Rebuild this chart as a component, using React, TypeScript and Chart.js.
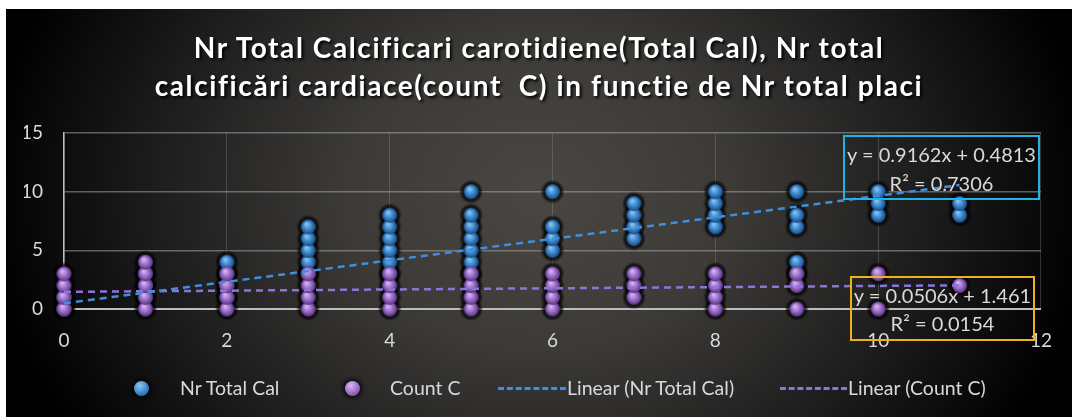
import React, { useEffect, useRef } from "react";
import { Chart, registerables } from "chart.js";

Chart.register(...registerables);

// ---- data ----
const categories = [0, 1, 2, 3, 4, 5, 6, 7, 8, 9, 10, 11];
const totalCalValues: number[][] = [
  [0, 1],
  [1, 2, 3],
  [1, 2, 3, 4],
  [3, 4, 5, 6, 7],
  [3, 4, 5, 6, 7, 8],
  [3, 4, 5, 6, 7, 8, 10],
  [5, 6, 7, 10],
  [6, 7, 8, 9],
  [7, 8, 9, 10],
  [3, 4, 7, 8, 10],
  [8, 9, 10],
  [8, 9],
];
const countCValues: number[][] = [
  [0, 1, 2, 3],
  [0, 1, 2, 3, 4],
  [0, 1, 2, 3],
  [0, 1, 2, 3],
  [0, 1, 2, 3],
  [0, 1, 2, 3],
  [0, 1, 2, 3],
  [1, 2, 3],
  [0, 1, 2, 3],
  [0, 2, 3],
  [0, 3],
  [2],
];
const trendRange = [0, 11];
const totalSlope = 0.9162;
const totalIntercept = 0.4813;
const countSlope = 0.0506;
const countIntercept = 1.461;
const xTicks = [0, 2, 4, 6, 8, 10, 12];
const yTicks = [0, 5, 10, 15];

const titleLines = [
  "Nr Total Calcificari carotidiene(Total Cal), Nr total",
  "calcificări cardiace(count  C) in functie de Nr total placi",
];
const legendLabels = ["Nr Total Cal", "Count C", "Linear (Nr Total Cal)", "Linear (Count C)"];
const totalEq = ["y = 0.9162x + 0.4813", "R² = 0.7306"];
const countEq = ["y = 0.0506x + 1.461", "R² = 0.0154"];

const FONT = "Lato, 'Open Sans', 'DejaVu Sans Condensed', sans-serif";
const BLUE_LINE = "#3d8fe0";
const PURPLE_LINE = "#8d74d8";

function toPoints(values: number[][]) {
  const pts: { x: number; y: number }[] = [];
  categories.forEach((c, i) => values[i].forEach((v) => pts.push({ x: c, y: v })));
  return pts;
}

function makeSphere(r: number, light: string, base: string, dark: string) {
  const size = Math.ceil(r * 2) + 2;
  const cv = document.createElement("canvas");
  cv.width = size;
  cv.height = size;
  const ctx = cv.getContext("2d")!;
  const c = size / 2;
  const g = ctx.createRadialGradient(c - r * 0.25, c - r * 0.4, 0.5, c, c, r);
  g.addColorStop(0, light);
  g.addColorStop(0.55, base);
  g.addColorStop(1, dark);
  ctx.fillStyle = g;
  ctx.beginPath();
  ctx.arc(c, c, r, 0, Math.PI * 2);
  ctx.fill();
  return cv;
}

function makeHalo(r: number) {
  const size = Math.ceil(r * 2);
  const cv = document.createElement("canvas");
  cv.width = size;
  cv.height = size;
  const ctx = cv.getContext("2d")!;
  const c = size / 2;
  const g = ctx.createRadialGradient(c, c, r * 0.5, c, c, r);
  g.addColorStop(0, "rgba(0,0,0,0.9)");
  g.addColorStop(0.6, "rgba(0,0,0,0.6)");
  g.addColorStop(1, "rgba(0,0,0,0)");
  ctx.fillStyle = g;
  ctx.beginPath();
  ctx.arc(c, c, r, 0, Math.PI * 2);
  ctx.fill();
  return cv;
}

const sphereCss = (light: string, base: string, dark: string) =>
  `radial-gradient(circle at 38% 30%, ${light} 0%, ${base} 55%, ${dark} 100%)`;

export default function App() {
  const ref = useRef<HTMLCanvasElement | null>(null);

  useEffect(() => {
    if (!ref.current) return;
    const blueSphere = makeSphere(7.5, "#8cc6f2", "#3a86cc", "#1c4a7e");
    const purpleSphere = makeSphere(7.5, "#d7b9f2", "#9a6cc8", "#56347e");
    const halo = makeHalo(12);
    const totalPts = toPoints(totalCalValues);
    const countPts = toPoints(countCValues);
    const trendTotal = trendRange.map((x) => ({ x, y: totalSlope * x + totalIntercept }));
    const trendCount = trendRange.map((x) => ({ x, y: countSlope * x + countIntercept }));

    const chart = new Chart(ref.current, {
      type: "scatter",
      data: {
        datasets: [
          {
            label: legendLabels[2],
            data: trendTotal,
            showLine: true,
            borderColor: BLUE_LINE,
            borderWidth: 2.5,
            borderDash: [7, 5],
            pointRadius: 0,
            order: 0,
          } as any,
          {
            label: legendLabels[3],
            data: trendCount,
            showLine: true,
            borderColor: PURPLE_LINE,
            borderWidth: 2.5,
            borderDash: [7, 5],
            pointRadius: 0,
            order: 0,
          } as any,
          {
            label: legendLabels[1],
            data: countPts,
            pointStyle: purpleSphere,
            pointRadius: 7.5,
            clip: false,
            order: 1,
          } as any,
          {
            label: legendLabels[0],
            data: totalPts,
            pointStyle: blueSphere,
            pointRadius: 7.5,
            clip: false,
            order: 2,
          } as any,
          {
            label: "shadow",
            data: [...totalPts, ...countPts],
            pointStyle: halo,
            pointRadius: 12,
            clip: false,
            order: 3,
          } as any,
        ],
      },
      options: {
        animation: false,
        responsive: false,
        devicePixelRatio: 1,
        events: [],
        layout: { padding: { left: 18, right: 25, top: 124, bottom: 68 } },
        plugins: {
          legend: { display: false },
          title: { display: false },
          tooltip: { enabled: false },
        },
        scales: {
          x: {
            type: "linear",
            min: xTicks[0],
            max: xTicks[xTicks.length - 1],
            afterFit: (s: any) => {
              s.height = 40;
            },
            afterBuildTicks: (s: any) => {
              s.ticks = xTicks.map((v) => ({ value: v }));
            },
            ticks: {
              color: "#d9d9d9",
              font: { family: FONT, size: 19 },
              padding: 20,
            },
            grid: {
              color: "rgba(165,165,165,0.28)",
              lineWidth: 1,
              drawTicks: false,
            },
            border: { display: true, color: "#bdbdbd", width: 2 },
          },
          y: {
            type: "linear",
            min: yTicks[0],
            max: yTicks[yTicks.length - 1],
            afterFit: (s: any) => {
              s.width = 40;
            },
            afterBuildTicks: (s: any) => {
              s.ticks = yTicks.map((v) => ({ value: v }));
            },
            ticks: {
              color: "#d9d9d9",
              font: { family: FONT, size: 19 },
              padding: 21,
            },
            grid: {
              color: (c: any) => (c.tick && c.tick.value === 0 ? "#bdbdbd" : "rgba(175,175,175,0.5)"),
              lineWidth: (c: any) => (c.tick && c.tick.value === 0 ? 2 : 1.5),
              drawTicks: false,
            },
            border: { display: true, color: "#bdbdbd", width: 1.5 },
          },
        },
      },
    });
    return () => chart.destroy();
  }, []);

  const textStyle: React.CSSProperties = {
    position: "absolute",
    fontFamily: FONT,
    fontSize: 19.5,
    color: "#d9d9d9",
    lineHeight: "20px",
    whiteSpace: "nowrap",
  };
  const legendY = 379;

  return (
    <div
      style={{
        position: "fixed",
        left: 6,
        top: 9,
        width: 1066,
        height: 408,
        overflow: "hidden",
        background:
          "radial-gradient(ellipse 52% 110% at 50% 45%, #4a4743 0%, #3c3a37 35%, #1e1e1e 68%, #000 100%)",
      }}
    >
      <canvas ref={ref} width={1066} height={408} style={{ position: "absolute", left: 0, top: 0 }} />
      <div
        style={{
          position: "absolute",
          left: 0,
          top: 19,
          width: 1066,
          textAlign: "center",
          fontFamily: FONT,
          fontWeight: "bold",
          fontSize: 28,
          lineHeight: "38px",
          color: "#ffffff",
          letterSpacing: 1.6,
          textShadow: "2px 2px 3px rgba(0,0,0,0.95)",
          whiteSpace: "pre",
        }}
      >
        {titleLines.map((t, i) => (
          <div key={i}>{t}</div>
        ))}
      </div>

      {/* legend */}
      <div
        style={{
          position: "absolute",
          left: 135 - 7.5,
          top: legendY - 7.5,
          width: 15,
          height: 15,
          borderRadius: "50%",
          background: sphereCss("#8cc6f2", "#3a86cc", "#1c4a7e"),
          boxShadow: "0 0 4px 2px rgba(0,0,0,0.8)",
        }}
      />
      <div style={{ ...textStyle, left: 174, top: legendY - 10 }}>{legendLabels[0]}</div>
      <div
        style={{
          position: "absolute",
          left: 346 - 7.5,
          top: legendY - 7.5,
          width: 15,
          height: 15,
          borderRadius: "50%",
          background: sphereCss("#d7b9f2", "#9a6cc8", "#56347e"),
          boxShadow: "0 0 4px 2px rgba(0,0,0,0.8)",
        }}
      />
      <div style={{ ...textStyle, left: 384, top: legendY - 10 }}>{legendLabels[1]}</div>
      <div
        style={{
          position: "absolute",
          left: 492,
          top: legendY - 1,
          width: 68,
          height: 0,
          borderTop: `3px dashed ${BLUE_LINE}`,
        }}
      />
      <div style={{ ...textStyle, left: 561, top: legendY - 10 }}>{legendLabels[2]}</div>
      <div
        style={{
          position: "absolute",
          left: 774,
          top: legendY - 1,
          width: 67,
          height: 0,
          borderTop: `3px dashed ${PURPLE_LINE}`,
        }}
      />
      <div style={{ ...textStyle, left: 842, top: legendY - 10 }}>{legendLabels[3]}</div>

      {/* trendline equation labels */}
      <div
        style={{
          position: "absolute",
          left: 837,
          top: 126,
          width: 193,
          height: 58,
          border: "2px solid #1fb4e6",
          textAlign: "center",
          fontFamily: FONT,
          fontSize: 20,
          lineHeight: "29px",
          color: "#d9d9d9",
          paddingTop: 3,
          boxSizing: "content-box",
        }}
      >
        {totalEq.map((t, i) => (
          <div key={i}>{t}</div>
        ))}
      </div>
      <div
        style={{
          position: "absolute",
          left: 844,
          top: 267,
          width: 181,
          height: 58,
          border: "2px solid #f2b11c",
          textAlign: "center",
          fontFamily: FONT,
          fontSize: 20,
          lineHeight: "28px",
          color: "#d9d9d9",
          paddingTop: 3,
          boxSizing: "content-box",
        }}
      >
        {countEq.map((t, i) => (
          <div key={i}>{t}</div>
        ))}
      </div>
    </div>
  );
}
